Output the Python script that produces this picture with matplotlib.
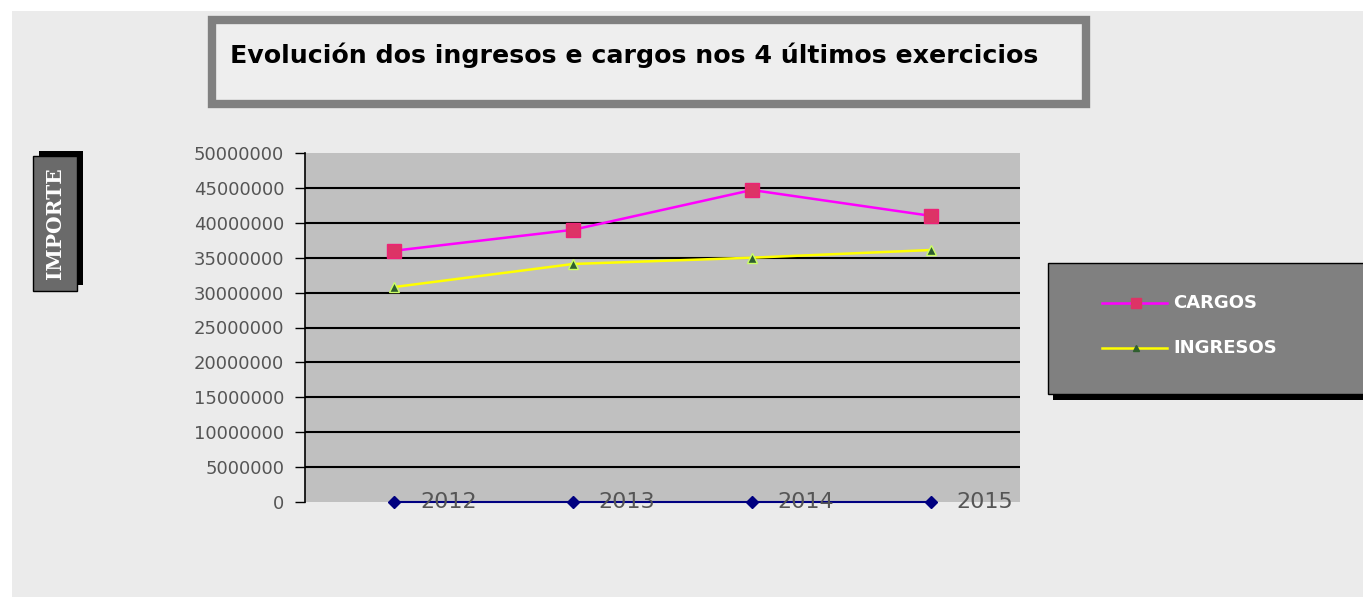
import matplotlib.pyplot as plt
from matplotlib.patches import Rectangle
from matplotlib.lines import Line2D

anos = ['2012', '2013', '2014', '2015']
cargos = [36000000, 39000000, 44700000, 41000000]
ingresos = [30800000, 34100000, 35000000, 36100000]
base = [0, 0, 0, 0]
yticks = list(range(0, 50000001, 5000000))

W, H = 1363, 597
fig = plt.figure(figsize=(W / 100, H / 100), dpi=100, facecolor='white')

def fx(px):
    return px / W

def fy(py):
    return 1 - py / H

# fondo general
fig.patches.append(Rectangle((fx(12), 0), 1 - fx(12), fy(11), transform=fig.transFigure,
                             facecolor='#ebebeb', edgecolor='none', zorder=-5))

# caixa do titulo
fig.patches.append(Rectangle((fx(212), fy(104)), fx(874), (92 - 8) / H, transform=fig.transFigure,
                             facecolor='#eeeeee', edgecolor='#808080', linewidth=6, zorder=1))
fig.text(fx(230), fy(55), 'Evolución dos ingresos e cargos nos 4 últimos exercicios',
         fontsize=18.2, fontweight='bold', color='black', va='center', ha='left',
         family='DejaVu Sans', zorder=2)

# etiqueta eixo y
fig.patches.append(Rectangle((fx(39), fy(285)), fx(44), 134 / H, transform=fig.transFigure,
                             facecolor='black', edgecolor='none', zorder=1))
fig.patches.append(Rectangle((fx(33), fy(291)), fx(44), 135 / H, transform=fig.transFigure,
                             facecolor='#6a6a6a', edgecolor='black', linewidth=1, zorder=2))
fig.text(fx(55), fy(223), 'IMPORTE', rotation=90, fontsize=14.5, fontweight='bold',
         color='white', family='DejaVu Serif', va='center', ha='center', zorder=3)

# grafico
ax = fig.add_axes([fx(305), fy(502), fx(715), 349 / H])
ax.set_zorder(2)
ax.set_facecolor('#c0c0c0')
x = range(len(anos))
ax.set_xlim(-0.5, len(anos) - 0.5)
ax.set_ylim(0, 50000000)
# liñas de grella (sen a superior)
ax.hlines(yticks[1:-1], -0.5, len(anos) - 0.5, colors='black', linewidth=1.5, zorder=1)

ax.plot(x, cargos, color='#ff00ff', linewidth=1.8, marker='s', markersize=10,
        markerfacecolor='#dd3366', markeredgecolor='#ee2277', zorder=4)
ax.plot(x, ingresos, color='#ffff00', linewidth=1.8, marker='^', markersize=6.5,
        markerfacecolor='#2f5f2f', markeredgecolor='#ccff66', zorder=4)
ax.plot(x, base, color='#000080', linewidth=1.5, marker='D', markersize=6,
        markerfacecolor='#000080', clip_on=False, zorder=5)
for i, a in enumerate(anos):
    ax.annotate(a, (i, 0), xytext=(54, 0), textcoords='offset pixels',
                ha='center', va='center', fontsize=16, color='#555555',
                annotation_clip=False, zorder=6)

ax.set_yticks(yticks)
ax.set_yticklabels([str(v) for v in yticks])
ax.set_xticks([])
ax.tick_params(axis='y', direction='out', length=7, width=1, color='black',
               labelsize=13, labelcolor='#555555', pad=8)
for s in ['top', 'right', 'bottom']:
    ax.spines[s].set_visible(False)
ax.spines['left'].set_color('black')
ax.spines['left'].set_linewidth(1.2)

# lenda
fig.patches.append(Rectangle((fx(1053), fy(400)), fx(320), 132 / H, transform=fig.transFigure,
                             facecolor='black', edgecolor='none', zorder=1))
fig.patches.append(Rectangle((fx(1048), fy(394)), fx(320), 131 / H, transform=fig.transFigure,
                             facecolor='#808080', edgecolor='black', linewidth=1, zorder=2))
leg = [('CARGOS', '#ff00ff', 's', '#dd3366', 7, 303),
       ('INGRESOS', '#ffff00', '^', '#2f5f2f', 5, 348)]
for nome, cor, mk, mcor, ms, py in leg:
    fig.add_artist(Line2D([fx(1102), fx(1167)], [fy(py), fy(py)], color=cor, linewidth=1.8,
                          transform=fig.transFigure, zorder=3))
    fig.add_artist(Line2D([fx(1136)], [fy(py)], marker=mk, markersize=ms, color=mcor,
                          transform=fig.transFigure, zorder=4))
    fig.text(fx(1173), fy(py), nome, fontsize=13, fontweight='bold', color='white',
             va='center', ha='left', family='DejaVu Sans', zorder=4)

fig.savefig('out.png', dpi=100, facecolor=fig.get_facecolor())
